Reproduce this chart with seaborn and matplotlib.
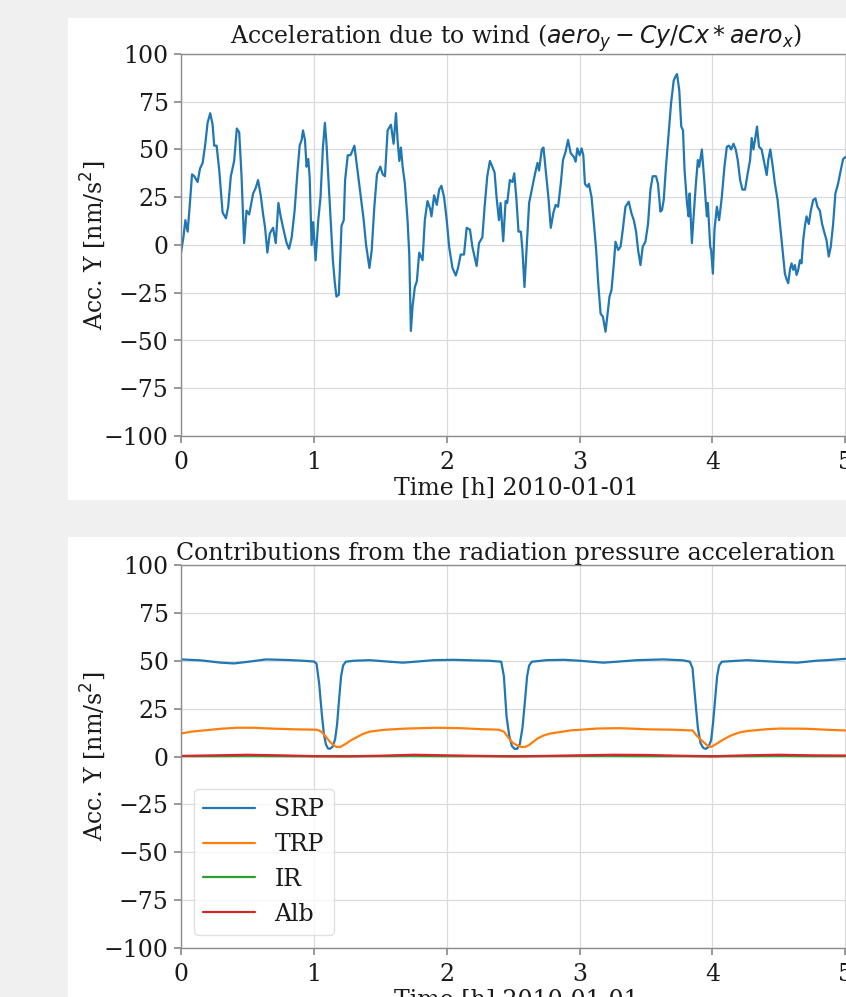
import numpy as np
import pandas as pd
import matplotlib
matplotlib.use("Agg")
import matplotlib.pyplot as plt
from matplotlib.patches import Rectangle
import seaborn as sns

# ---- wind acceleration, Y component [nm/s^2] vs time [h] ----
wind_t = [
    0.000, 0.018, 0.033, 0.050, 0.065, 0.083, 0.100, 0.125, 0.143, 0.163,
    0.183, 0.200, 0.220, 0.238, 0.250, 0.268, 0.288, 0.313, 0.338, 0.355,
    0.375, 0.400, 0.420, 0.438, 0.455, 0.475, 0.493, 0.513, 0.543, 0.563,
    0.580, 0.600, 0.618, 0.633, 0.650, 0.668, 0.693, 0.713, 0.733, 0.750,
    0.775, 0.795, 0.813, 0.833, 0.855, 0.875, 0.893, 0.908, 0.918, 0.933,
    0.945, 0.958, 0.968, 0.983, 0.995, 1.013, 1.033, 1.050, 1.068, 1.083,
    1.095, 1.113, 1.130, 1.143, 1.158, 1.170, 1.188, 1.208, 1.225, 1.235,
    1.255, 1.275, 1.288, 1.305, 1.325, 1.350, 1.375, 1.393, 1.418, 1.435,
    1.455, 1.475, 1.500, 1.518, 1.535, 1.555, 1.580, 1.600, 1.618, 1.630,
    1.643, 1.655, 1.668, 1.685, 1.705, 1.718, 1.730, 1.743, 1.760, 1.775,
    1.793, 1.818, 1.835, 1.855, 1.875, 1.885, 1.905, 1.925, 1.943, 1.960,
    1.980, 2.000, 2.018, 2.043, 2.068, 2.085, 2.105, 2.130, 2.150, 2.175,
    2.193, 2.225, 2.243, 2.268, 2.285, 2.305, 2.325, 2.343, 2.360, 2.375,
    2.393, 2.405, 2.425, 2.443, 2.455, 2.475, 2.495, 2.508, 2.525, 2.540,
    2.558, 2.570, 2.585, 2.600, 2.620, 2.645, 2.665, 2.683, 2.695, 2.715,
    2.728, 2.745, 2.765, 2.783, 2.803, 2.820, 2.838, 2.858, 2.875, 2.895,
    2.913, 2.933, 2.958, 2.970, 2.983, 3.000, 3.015, 3.028, 3.040, 3.058,
    3.070, 3.090, 3.108, 3.125, 3.140, 3.158, 3.175, 3.195, 3.208, 3.225,
    3.240, 3.258, 3.270, 3.290, 3.308, 3.325, 3.345, 3.370, 3.390, 3.408,
    3.425, 3.440, 3.458, 3.475, 3.495, 3.515, 3.533, 3.550, 3.575, 3.590,
    3.608, 3.620, 3.633, 3.650, 3.670, 3.688, 3.708, 3.720, 3.733, 3.750,
    3.765, 3.778, 3.790, 3.808, 3.820, 3.828, 3.845, 3.858, 3.875, 3.890,
    3.900, 3.920, 3.938, 3.950, 3.958, 3.965, 3.983, 3.990, 4.003, 4.015,
    4.033, 4.050, 4.070, 4.090, 4.108, 4.125, 4.140, 4.158, 4.175, 4.190,
    4.208, 4.225, 4.245, 4.265, 4.283, 4.295, 4.308, 4.320, 4.335, 4.350,
    4.370, 4.390, 4.408, 4.420, 4.435, 4.450, 4.470, 4.490, 4.508, 4.525,
    4.545, 4.558, 4.570, 4.583, 4.595, 4.608, 4.620, 4.633, 4.645, 4.658,
    4.670, 4.683, 4.695, 4.708, 4.725, 4.740, 4.758, 4.775, 4.790, 4.808,
    4.825, 4.840, 4.858, 4.875, 4.890, 4.908, 4.925, 4.945, 4.965, 4.983,
    5.000,
]
wind_acc = [
    -4, 4, 13, 7, 20, 37, 36, 33, 40, 43,
    53, 64, 69, 63, 52, 52, 39, 17, 14, 20,
    36, 44, 61, 59, 37, 1, 18, 16, 27, 30,
    34, 26, 16, 9, -4, 6, 9, 1, 22, 15,
    7, 1, -2, 4, 18, 37, 52, 55, 60, 55,
    41, 45, 36, 0, 12, -8, 13, 25, 51, 64,
    53, 30, 9, -8, -20, -27, -26, 10, 13, 34,
    47, 47, 49, 52, 41, 27, 13, 0, -12, -3,
    20, 37, 41, 37, 36, 60, 63, 53, 69, 55,
    44, 51, 41, 32, 13, -5, -45, -32, -22, -19,
    -4, -8, 13, 23, 19, 15, 26, 21, 29, 31,
    25, 13, -1, -12, -16, -12, -5, -5, 9, 8,
    -1, -11, 1, 4, 20, 36, 44, 41, 38, 25,
    13, 22, 2, 23, 22, 34, 33, 37.5, 23.5, 7,
    7, -3, -22, -3, 22, 30.5, 37.5, 43, 39, 50,
    51, 39, 25, 9, 17, 21, 20, 32, 44.5, 49,
    55, 48, 46, 43.6, 50.6, 47, 50.6, 47, 32, 30.5,
    32, 25, 11, -3, -20, -36, -37.5, -45.4, -37.5, -27,
    -23.6, -9.6, 1.7, -2.6, -0.9, 8, 20, 22.7, 16.6, 13,
    7, -2.6, -10.5, -0.9, 1.7, 11, 29, 36, 36, 32,
    17.5, 18.3, 23.6, 41, 58.5, 74, 86, 88, 89.5, 81,
    62, 60, 39, 22, 15, 27, 1, 15, 32, 44.5,
    41, 50, 34, 22, 15, 22, -1, -2.6, -15, 8,
    20, 13, 25, 41, 51.5, 52, 50, 53, 50, 44.5,
    34, 29, 29, 37.5, 44.5, 56, 50, 55, 62, 51.5,
    50, 43, 36.6, 44.5, 50, 43, 32, 23.6, 11, -1,
    -15, -18, -20, -13, -9.6, -13, -10.5, -15.7, -13, -8,
    -9.6, 2.6, 9.6, 15, 11, 18, 23.6, 24.4, 20, 18,
    11, 7, 2.6, -6, -1, 11, 27, 32, 39, 45,
    46,
]

# ---- radiation pressure contributions, Y component [nm/s^2] ----
srp_t = [
    0.00, 0.15, 0.30, 0.40, 0.52, 0.64, 0.80, 0.92, 1.00, 1.02,
    1.04, 1.06, 1.075, 1.09, 1.105, 1.12, 1.14, 1.16, 1.175, 1.19,
    1.205, 1.22, 1.24, 1.30, 1.42, 1.55, 1.67, 1.78, 1.90, 2.05,
    2.20, 2.32, 2.41, 2.43, 2.45, 2.47, 2.49, 2.51, 2.53, 2.55,
    2.57, 2.59, 2.605, 2.62, 2.64, 2.75, 2.88, 3.00, 3.18, 3.30,
    3.43, 3.63, 3.78, 3.83, 3.85, 3.87, 3.89, 3.91, 3.93, 3.95,
    3.97, 3.99, 4.005, 4.02, 4.035, 4.05, 4.07, 4.26, 4.39, 4.52,
    4.64, 4.78, 4.86, 5.00,
]
srp = [
    50.7, 50.2, 49.0, 48.6, 49.6, 50.7, 50.4, 50.0, 49.6, 48.5,
    38, 22, 12, 6.5, 4.3, 4.0, 5.0, 9, 17, 30,
    42, 47.5, 49.5, 50.0, 50.3, 49.6, 49.0, 49.6, 50.3, 50.5,
    50.2, 50.0, 49.5, 42, 21, 11, 5.5, 4.0, 4.0, 6.5,
    15, 30, 42, 47.5, 49.5, 50.3, 50.5, 50.0, 49.0, 49.6,
    50.3, 50.7, 50.2, 49.5, 46, 30, 15, 7, 4.5, 4.0,
    5.0, 8.5, 18, 30, 42, 47.5, 49.5, 50.3, 49.8, 49.3,
    49.0, 50.0, 50.3, 51.0,
]

trp_t = [
    0.00, 0.08, 0.17, 0.30, 0.42, 0.55, 0.67, 0.85, 1.02, 1.05,
    1.07, 1.10, 1.12, 1.15, 1.17, 1.20, 1.24, 1.28, 1.32, 1.37,
    1.42, 1.54, 1.70, 1.92, 2.10, 2.25, 2.39, 2.43, 2.48, 2.50,
    2.53, 2.56, 2.59, 2.62, 2.68, 2.73, 2.78, 2.93, 3.13, 3.30,
    3.51, 3.70, 3.85, 3.88, 3.90, 3.93, 3.96, 3.99, 4.03, 4.08,
    4.14, 4.20, 4.26, 4.40, 4.51, 4.70, 4.85, 5.00,
]
trp = [
    12.0, 13.0, 13.6, 14.5, 15.0, 15.0, 14.6, 14.2, 14.0, 13.2,
    12.0, 9.5, 7.7, 5.8, 5.0, 5.0, 6.6, 8.5, 10.0, 11.8,
    13.0, 14.0, 14.6, 15.0, 14.8, 14.3, 14.0, 13.0, 8.4, 7.0,
    5.8, 5.0, 5.0, 6.0, 9.3, 11.0, 12.0, 13.6, 14.6, 14.8,
    14.2, 14.0, 13.6, 11.0, 9.5, 7.7, 5.8, 5.0, 6.6, 8.8,
    11.0, 12.5, 13.3, 14.2, 14.6, 14.5, 14.0, 13.6,
]

flux_t = [
    0.00, 0.25, 0.50, 0.75, 1.00, 1.25, 1.50, 1.75, 2.00, 2.25,
    2.50, 2.75, 3.00, 3.25, 3.50, 3.75, 4.00, 4.25, 4.50, 4.75, 5.00,
]
ir = [
    0.2, 0.2, 0.3, 0.2, 0.1, 0.1, 0.2, 0.3, 0.2, 0.2,
    0.1, 0.2, 0.3, 0.3, 0.2, 0.2, 0.1, 0.2, 0.3, 0.2, 0.2,
]
alb = [
    0.3, 0.6, 0.9, 0.6, 0.2, 0.1, 0.4, 0.9, 0.6, 0.3,
    0.1, 0.3, 0.6, 0.9, 0.8, 0.4, 0.1, 0.6, 0.9, 0.6, 0.5,
]

y_ticks = [-100, -75, -50, -25, 0, 25, 50, 75, 100]
x_ticks = [0, 1, 2, 3, 4, 5]

FS = 17

sns.set_theme(style="whitegrid")
plt.rcParams.update({
    "font.family": ["DejaVu Serif"],
    "mathtext.fontset": "dejavusans",
    "font.size": FS,
    "axes.edgecolor": "0.55",
    "axes.linewidth": 1.0,
    "grid.color": "0.86",
    "grid.linewidth": 0.9,
    "xtick.bottom": True,
    "ytick.left": True,
    "xtick.color": "0.55",
    "ytick.color": "0.55",
    "xtick.labelcolor": "0.1",
    "ytick.labelcolor": "0.1",
    "xtick.major.size": 5,
    "ytick.major.size": 5,
    "text.color": "0.1",
    "axes.labelcolor": "0.1",
})

W, H = 846, 997
fig = plt.figure(figsize=(W / 100, H / 100), dpi=100, facecolor="#f0f0f0")

# white backing panels behind each plot
fig.patches.append(Rectangle((68 / W, 1 - 500 / H), 1.0, (500 - 18) / H,
                             transform=fig.transFigure, facecolor="white",
                             edgecolor="none", zorder=-10))
fig.patches.append(Rectangle((68 / W, 0.0), 1.0, 1 - 537 / H,
                             transform=fig.transFigure, facecolor="white",
                             edgecolor="none", zorder=-10))

ax1 = fig.add_axes([181 / W, 1 - 436 / H, 671 / W, 382 / H])
ax2 = fig.add_axes([181 / W, 1 - 948 / H, 671 / W, 383 / H])

c = sns.color_palette("tab10")

sns.lineplot(x=wind_t, y=wind_acc, ax=ax1, color=c[0], linewidth=1.6,
             estimator=None, sort=False)
ax1.set_title(r"Acceleration due to wind ($aero_y - Cy/Cx * aero_x$)",
              fontsize=FS, pad=4)

sns.lineplot(x=srp_t, y=srp, ax=ax2, color=c[0], linewidth=1.6,
             estimator=None, sort=False, label="SRP")
sns.lineplot(x=trp_t, y=trp, ax=ax2, color=c[1], linewidth=1.6,
             estimator=None, sort=False, label="TRP")
sns.lineplot(x=flux_t, y=ir, ax=ax2, color=c[2], linewidth=1.6,
             estimator=None, sort=False, label="IR")
sns.lineplot(x=flux_t, y=alb, ax=ax2, color=c[3], linewidth=1.6,
             estimator=None, sort=False, label="Alb")
ax2.set_title("Contributions from the radiation pressure acceleration",
              fontsize=FS, loc="left", x=-0.008, pad=2)
ax2.legend(loc="lower left", fontsize=FS, frameon=True, fancybox=True,
           edgecolor="0.85", framealpha=0.8, handlelength=2.2,
           borderaxespad=0.55)

for ax in (ax1, ax2):
    ax.set_xlim(0, 5.05)
    ax.set_ylim(-100, 100)
    ax.set_xticks(x_ticks)
    ax.set_yticks(y_ticks)
    ax.set_xlabel("Time [h] 2010-01-01", fontsize=FS, labelpad=2)
    ax.set_ylabel(r"Acc. Y [nm/s$^2$]", fontsize=FS, labelpad=-3)
    ax.tick_params(axis="x", labelsize=FS, pad=6)
    ax.tick_params(axis="y", labelsize=FS, pad=4)
    for s in ax.spines.values():
        s.set_visible(True)
        s.set_color("0.55")

fig.savefig("out.png", dpi=100, facecolor=fig.get_facecolor())
